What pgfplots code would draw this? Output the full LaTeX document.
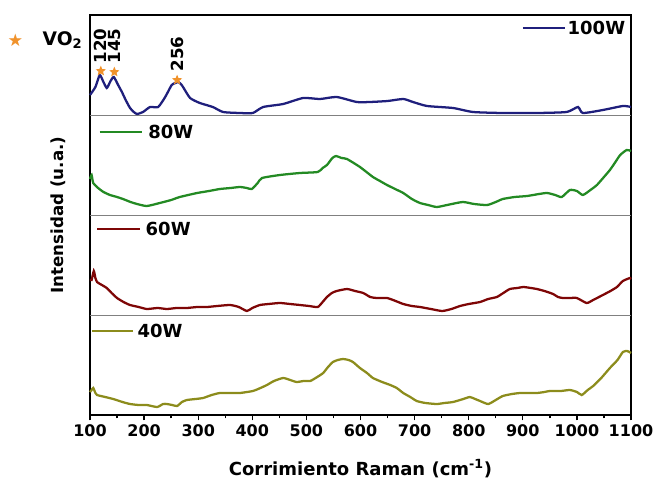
\documentclass[border=0pt]{standalone}
\usepackage{fontspec}
\setmainfont{DejaVu Sans}
\usepackage{pgfplots}
\pgfplotsset{compat=1.18}

\definecolor{c100}{HTML}{1F1F7C}
\definecolor{c80}{HTML}{238A23}
\definecolor{c60}{HTML}{7E0606}
\definecolor{c40}{HTML}{8C8C1C}
\definecolor{cstar}{HTML}{F0922B}

% filled five-point star
\pgfdeclareplotmark{fstar}{%
  \pgfpathmoveto{\pgfpointpolar{90}{\pgfplotmarksize}}%
  \pgfpathlineto{\pgfpointpolar{126}{0.45\pgfplotmarksize}}%
  \pgfpathlineto{\pgfpointpolar{162}{\pgfplotmarksize}}%
  \pgfpathlineto{\pgfpointpolar{198}{0.45\pgfplotmarksize}}%
  \pgfpathlineto{\pgfpointpolar{234}{\pgfplotmarksize}}%
  \pgfpathlineto{\pgfpointpolar{270}{0.45\pgfplotmarksize}}%
  \pgfpathlineto{\pgfpointpolar{306}{\pgfplotmarksize}}%
  \pgfpathlineto{\pgfpointpolar{342}{0.45\pgfplotmarksize}}%
  \pgfpathlineto{\pgfpointpolar{18}{\pgfplotmarksize}}%
  \pgfpathlineto{\pgfpointpolar{54}{0.45\pgfplotmarksize}}%
  \pgfpathclose
  \pgfusepathqfill}

\begin{document}
\begin{tikzpicture}
\begin{axis}[
  scale only axis, width=405.75pt, height=300pt,
  xmin=100, xmax=1100, ymin=0, ymax=400,
  clip=false,
  axis line style={line width=1.1pt},
  xtick={100,200,...,1100}, minor x tick num=1,
  xtick pos=bottom, tick align=outside,
  major tick length=4pt, minor tick length=2.5pt,
  every tick/.style={black, line width=1pt},
  ytick=\empty,
  /pgf/number format/assume math mode=true,
  /pgf/number format/1000 sep={},
  xticklabel style={font=\fontsize{12}{12}\selectfont\bfseries},
  xlabel={Corrimiento Raman (cm\textsuperscript{-1})},
  every axis x label/.style={at={(axis description cs:0.5,-0.1)}, anchor=north,
    font=\fontsize{13.5}{13.5}\selectfont\bfseries},
  ylabel={Intensidad (u.a.)},
  every axis y label/.style={at={(axis description cs:-0.036,0.5)}, rotate=90, anchor=south,
    font=\fontsize{12.5}{12.5}\selectfont\bfseries},
  spec/.style={line width=1.7pt, smooth, tension=0.35},
]
  \coordinate (SW) at (rel axis cs:0,0);
  % panel separators
  \draw[gray, line width=0.6pt] (axis cs:100,100) -- (axis cs:1100,100);
  \draw[gray, line width=0.6pt] (axis cs:100,200) -- (axis cs:1100,200);
  \draw[gray, line width=0.6pt] (axis cs:100,300) -- (axis cs:1100,300);

  % 100W
  \addplot[c100, spec] coordinates {
    (100,320) (110,328) (118,340) (124,334) (131,327) (138,334) (144,338)
    (152,330) (159,323) (166,315) (174,307) (181,303) (187,301) (198,303)
    (211,308) (226,308) (239,318) (251,330) (258,332) (263,333) (268,331)
    (272,328) (285,317) (303,312) (327,308) (346,303) (377,302) (401,302)
    (420,308) (457,311) (494,317) (525,316) (556,318) (593,313) (617,313)
    (650,314) (679,316) (697,313) (723,309) (771,307) (808,303) (863,302)
    (926,302) (981,303) (1002,308) (1011,302) (1048,305) (1085,309) (1100,308)};
  % 80W
  \addplot[c80, spec] coordinates {
    (100,236) (103,240) (106,232) (115,227) (125,223) (137,220) (150,218)
    (161,216) (175,213) (187,211) (205,209) (229,212) (250,215) (266,218)
    (298,222) (320,224) (340,226) (360,227) (377,228) (390,227) (399,226)
    (410,232) (418,237) (451,240) (488,242) (521,243) (530,247) (538,250)
    (548,257) (555,259) (565,257) (575,256) (599,248) (623,238) (636,234)
    (649,230) (664,226) (679,222) (695,216) (710,212) (725,210) (741,208)
    (760,210) (789,213) (810,211) (834,210) (850,213) (863,216) (885,218)
    (908,219) (930,221) (945,222) (960,220) (972,218) (987,225) (1000,224)
    (1011,220) (1025,225) (1037,230) (1050,238) (1061,245) (1070,252)
    (1080,260) (1092,265) (1100,264)};
  % 60W
  \addplot[c60, spec] coordinates {
    (100,135) (103,135) (107,144) (110,137) (113,133) (122,130) (131,127)
    (140,122) (150,117) (162,113) (174,110) (190,108) (205,106) (225,107)
    (242,106) (260,107) (279,107) (298,108) (316,108) (335,109) (359,110)
    (375,108) (390,104) (400,107) (414,110) (430,111) (451,112) (470,111)
    (488,110) (505,109) (521,108) (530,113) (538,118) (547,122) (556,124)
    (575,126) (590,124) (605,122) (618,118) (630,117) (649,117) (665,114)
    (679,111) (695,109) (710,108) (730,106) (751,104) (768,106) (784,109)
    (800,111) (821,113) (836,116) (852,118) (864,122) (876,126) (890,127)
    (901,128) (915,127) (926,126) (940,124) (956,121) (965,118) (974,117)
    (987,117) (1000,117) (1018,112) (1030,115) (1048,120) (1062,124)
    (1074,128) (1085,134) (1098,137) (1100,136)};
  % 40W
  \addplot[c40, spec] coordinates {
    (100,23) (103,25) (106,27) (110,22) (113,20) (128,18) (143,16) (160,13)
    (174,11) (190,10) (205,10) (224,8) (235,11) (242,11) (252,10) (261,9)
    (270,13) (279,15) (295,16) (309,17) (325,20) (340,22) (360,22) (377,22)
    (401,24) (415,27) (427,30) (440,34) (457,37) (470,35) (482,33) (495,34)
    (507,34) (520,38) (531,42) (540,48) (549,53) (558,55) (568,56) (578,55)
    (586,53) (599,47) (612,42) (623,37) (640,33) (655,30) (667,27) (679,22)
    (692,18) (704,14) (720,12) (741,11) (755,12) (771,13) (790,16) (802,18)
    (812,16) (821,14) (836,11) (850,15) (863,19) (880,21) (895,22) (910,22)
    (926,22) (940,23) (950,24) (970,24) (987,25) (1000,23) (1009,20)
    (1020,25) (1030,29) (1045,37) (1061,47) (1075,55) (1085,63) (1093,64)
    (1100,62)};

  % VO2 peaks
  \addplot[only marks, mark=fstar, mark size=4pt, color=cstar] coordinates {
    (120,344) (145,343) (261,335)};
  \node[rotate=90, anchor=west, font=\fontsize{12.5}{12.5}\selectfont\bfseries, inner sep=1pt]
    at (axis cs:120,350) {120};
  \node[rotate=90, anchor=west, font=\fontsize{12.5}{12.5}\selectfont\bfseries, inner sep=1pt]
    at (axis cs:145,350) {145};
  \node[rotate=90, anchor=west, font=\fontsize{12.5}{12.5}\selectfont\bfseries, inner sep=1pt]
    at (axis cs:261,342) {256};
  \node[text=cstar, font=\fontsize{13}{13}\selectfont] at (axis cs:-38,375) {★};
  \node[anchor=west, font=\fontsize{14}{14}\selectfont\bfseries, inner sep=0pt] at (axis cs:12,375) {VO\textsubscript{2}};

  % panel labels
  \draw[c100, line width=1.5pt] (axis cs:900,387) -- (axis cs:978,387);
  \node[anchor=west, font=\fontsize{13.5}{13.5}\selectfont\bfseries, inner sep=1pt] at (axis cs:980,387) {100W};
  \draw[c80, line width=1.5pt] (axis cs:118,283) -- (axis cs:196,283);
  \node[anchor=west, font=\fontsize{13.5}{13.5}\selectfont\bfseries, inner sep=1pt] at (axis cs:205,283) {80W};
  \draw[c60, line width=1.5pt] (axis cs:113,186) -- (axis cs:192,186);
  \node[anchor=west, font=\fontsize{13.5}{13.5}\selectfont\bfseries, inner sep=1pt] at (axis cs:200,186) {60W};
  \draw[c40, line width=1.5pt] (axis cs:104,84) -- (axis cs:179,84);
  \node[anchor=west, font=\fontsize{13.5}{13.5}\selectfont\bfseries, inner sep=1pt] at (axis cs:185,84) {40W};
\end{axis}
\pgfresetboundingbox
\path (SW) ++(-67.5pt,-51pt) rectangle ++(489.75pt,362.25pt);
\end{tikzpicture}
\end{document}
